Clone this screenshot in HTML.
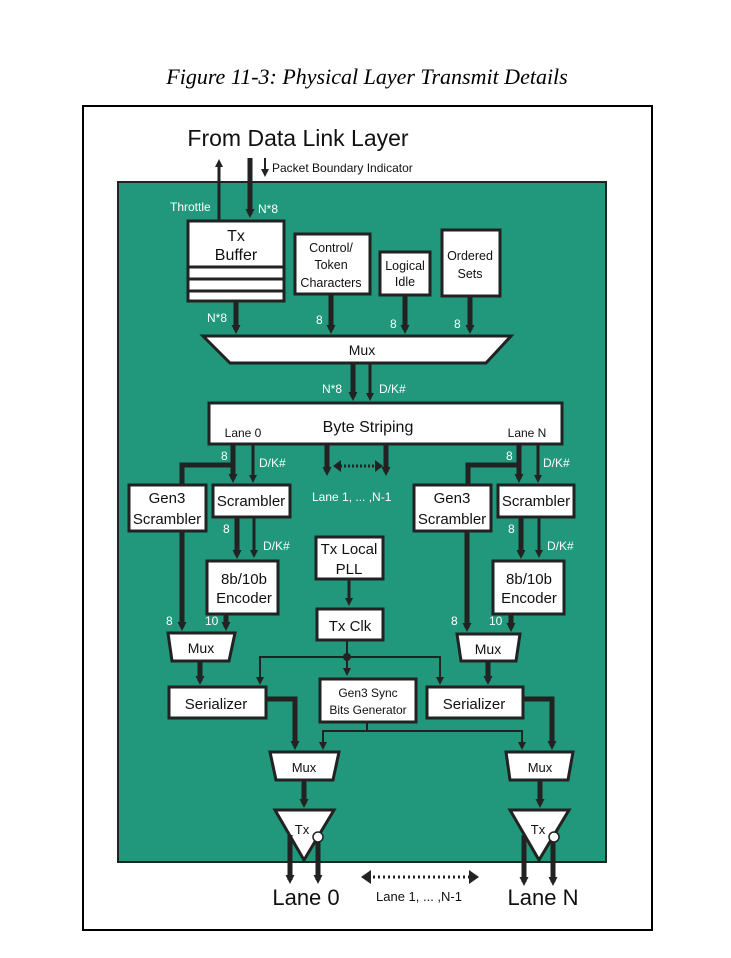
<!DOCTYPE html><html><head><style>body{margin:0;background:#fff}svg{display:block}text{font-family:"Liberation Sans",Arial,sans-serif}</style></head><body>
<svg width="731" height="958" viewBox="0 0 731 958" xmlns="http://www.w3.org/2000/svg">
<defs>
<marker id="b" markerWidth="8" markerHeight="8" refX="5" refY="4" orient="auto" markerUnits="userSpaceOnUse"><path d="M0,0 L8,4 L0,8z" fill="#222"/></marker>
<marker id="bw" markerWidth="9" markerHeight="9" refX="5" refY="4.5" orient="auto" markerUnits="userSpaceOnUse"><path d="M0,0 L9,4.5 L0,9z" fill="#222"/></marker>
</defs>
<text x="367" y="84" font-style="italic" font-size="22" text-anchor="middle" style="font-family:'Liberation Serif',serif">Figure 11-3: Physical Layer Transmit Details</text>
<rect x="83" y="106" width="569" height="824" fill="none" stroke="#000" stroke-width="2"/>
<text x="298" y="146" font-size="23" text-anchor="middle" fill="#111">From Data Link Layer</text>
<rect x="118" y="182" width="488" height="680" fill="#21977b" stroke="#222" stroke-width="2"/>
<g stroke="#222" fill="none">
<line x1="219" y1="221" x2="219" y2="162" stroke-width="3" marker-end="url(#b)"/>
<line x1="250" y1="158" x2="250" y2="214" stroke-width="5" marker-end="url(#bw)"/>
<line x1="265" y1="158" x2="265" y2="174" stroke-width="2" marker-end="url(#b)"/>
</g>
<text x="272" y="172" font-size="12" fill="#111">Packet Boundary Indicator</text>
<g font-size="12" fill="#fff">
<text x="170" y="211">Throttle</text><text x="258" y="213">N*8</text>
<text x="207" y="322">N*8</text><text x="316" y="324">8</text><text x="390" y="328">8</text><text x="454" y="328">8</text>
<text x="322" y="393">N*8</text><text x="379" y="393">D/K#</text>
<text x="221" y="460">8</text><text x="259" y="467">D/K#</text>
<text x="506" y="460">8</text><text x="543" y="467">D/K#</text>
<text x="312" y="501">Lane 1, ... ,N-1</text>
<text x="223" y="533">8</text><text x="263" y="550">D/K#</text>
<text x="508" y="533">8</text><text x="547" y="550">D/K#</text>
<text x="166" y="625">8</text><text x="205" y="625">10</text>
<text x="451" y="625">8</text><text x="489" y="625">10</text>
</g>
<g fill="#fff" stroke="#222" stroke-width="3">
<rect x="188" y="221" width="96" height="80"/>
<line x1="188" y1="267" x2="284" y2="267"/><line x1="188" y1="279" x2="284" y2="279"/><line x1="188" y1="291" x2="284" y2="291"/>
<rect x="295" y="234" width="75" height="60"/>
<rect x="380" y="252" width="50" height="43"/>
<rect x="442" y="230" width="58" height="66"/>
<polygon points="203,336 511,336 486,363 230,363"/>
<rect x="209" y="403" width="353" height="41"/>
<rect x="129" y="485" width="77" height="46"/><rect x="213" y="485" width="77" height="32"/>
<rect x="414" y="485" width="77" height="46"/><rect x="498" y="485" width="76" height="32"/>
<rect x="316" y="537" width="67" height="42"/><rect x="317" y="609" width="66" height="31"/>
<rect x="207" y="561" width="71" height="53"/><rect x="493" y="561" width="71" height="53"/>
<polygon points="168,633 235,633 229,661 172,661"/><polygon points="457,634 520,634 516,661 461,661"/>
<rect x="169" y="687" width="97" height="31"/><rect x="427" y="687" width="96" height="31"/>
<rect x="320" y="679" width="96" height="43"/>
<polygon points="270,752 339,752 333,780 276,780"/><polygon points="506,752 573,752 568,780 510,780"/>
<polygon points="275,810 334,810 304,860"/><polygon points="510,810 569,810 539,860"/>
</g>
<g stroke="#222" fill="none">
<g stroke-width="5">
<line x1="236" y1="302" x2="236" y2="330" marker-end="url(#bw)"/>
<line x1="331" y1="295" x2="331" y2="330" marker-end="url(#bw)"/>
<line x1="405" y1="296" x2="405" y2="330" marker-end="url(#bw)"/>
<line x1="470" y1="297" x2="470" y2="330" marker-end="url(#bw)"/>
<line x1="353" y1="364" x2="353" y2="397" marker-end="url(#bw)"/>
<polyline points="233,444 233,465 182,465 182,484"/>
<line x1="233" y1="465" x2="233" y2="479" marker-end="url(#bw)"/>
<polyline points="519,444 519,465 468,465 468,484"/>
<line x1="519" y1="465" x2="519" y2="479" marker-end="url(#bw)"/>
<line x1="327" y1="445" x2="327" y2="472" marker-end="url(#bw)"/>
<line x1="386" y1="445" x2="386" y2="472" marker-end="url(#bw)"/>
<line x1="237" y1="518" x2="237" y2="555" marker-end="url(#bw)"/>
<line x1="521" y1="518" x2="521" y2="555" marker-end="url(#bw)"/>
<line x1="182" y1="532" x2="182" y2="627" marker-end="url(#bw)"/>
<line x1="467" y1="532" x2="467" y2="628" marker-end="url(#bw)"/>
<line x1="226" y1="615" x2="226" y2="627" marker-end="url(#bw)"/>
<line x1="511" y1="615" x2="511" y2="628" marker-end="url(#bw)"/>
<line x1="200" y1="662" x2="200" y2="681" marker-end="url(#bw)"/>
<line x1="488" y1="662" x2="488" y2="681" marker-end="url(#bw)"/>
<polyline points="266,699 295,699 295,746" marker-end="url(#bw)"/>
<polyline points="523,699 552,699 552,746" marker-end="url(#bw)"/>
<line x1="304" y1="781" x2="304" y2="804" marker-end="url(#bw)"/>
<line x1="540" y1="781" x2="540" y2="804" marker-end="url(#bw)"/>
<line x1="290" y1="835" x2="290" y2="880" marker-end="url(#bw)"/>
<line x1="318" y1="840" x2="318" y2="880" marker-end="url(#bw)"/>
<line x1="524" y1="835" x2="524" y2="882" marker-end="url(#bw)"/>
<line x1="553" y1="840" x2="553" y2="882" marker-end="url(#bw)"/>
</g>
<g stroke-width="3">
<line x1="370" y1="364" x2="370" y2="398" marker-end="url(#b)"/>
<line x1="253" y1="444" x2="253" y2="480" marker-end="url(#b)"/>
<line x1="538" y1="444" x2="538" y2="480" marker-end="url(#b)"/>
<line x1="254" y1="518" x2="254" y2="555" marker-end="url(#b)"/>
<line x1="539" y1="518" x2="539" y2="555" marker-end="url(#b)"/>
<line x1="349" y1="580" x2="349" y2="603" marker-end="url(#b)"/>
</g>
<g stroke-width="2">
<line x1="347" y1="641" x2="347" y2="673" marker-end="url(#b)"/>
<polyline points="260,681 260,657 440,657 440,681"/>
<line x1="260" y1="672" x2="260" y2="682" marker-end="url(#b)"/>
<line x1="440" y1="672" x2="440" y2="682" marker-end="url(#b)"/>
<polyline points="367,722 367,731 323,731 323,746"/>
<polyline points="367,731 522,731 522,746"/>
<line x1="323" y1="740" x2="323" y2="747" marker-end="url(#b)"/>
<line x1="522" y1="740" x2="522" y2="747" marker-end="url(#b)"/>
</g>
<line x1="340" y1="466" x2="376" y2="466" stroke-width="3" stroke-dasharray="2,2"/>
<line x1="368" y1="877" x2="472" y2="877" stroke-width="3" stroke-dasharray="2,3"/>
</g>
<circle cx="347" cy="657" r="4" fill="#222"/>
<path d="M333,466 l8,-6 v12z M383,466 l-8,-6 v12z M361,877 l10,-7 v14z M479,877 l-10,-7 v14z" fill="#222"/>
<circle cx="318" cy="837" r="5" fill="#fff" stroke="#222" stroke-width="1.5"/>
<circle cx="554" cy="837" r="5" fill="#fff" stroke="#222" stroke-width="1.5"/>
<g fill="#111" text-anchor="middle">
<text x="236" y="241" font-size="16">Tx</text><text x="236" y="260" font-size="16">Buffer</text>
<text x="331" y="252" font-size="12.5">Control/</text><text x="331" y="269" font-size="12.5">Token</text><text x="331" y="287" font-size="12.5">Characters</text>
<text x="405" y="270" font-size="12.5">Logical</text><text x="405" y="286" font-size="12.5">Idle</text>
<text x="470" y="260" font-size="12.5">Ordered</text><text x="470" y="278" font-size="12.5">Sets</text>
<text x="362" y="355" font-size="14">Mux</text>
<text x="368" y="432" font-size="16">Byte Striping</text>
<text x="243" y="437" font-size="12">Lane 0</text><text x="527" y="437" font-size="12">Lane N</text>
<text x="167" y="503" font-size="15">Gen3</text><text x="167" y="524" font-size="15">Scrambler</text>
<text x="251" y="506" font-size="15">Scrambler</text>
<text x="452" y="503" font-size="15">Gen3</text><text x="452" y="524" font-size="15">Scrambler</text>
<text x="536" y="506" font-size="15">Scrambler</text>
<text x="349" y="554" font-size="15">Tx Local</text><text x="349" y="574" font-size="15">PLL</text>
<text x="350" y="631" font-size="15">Tx Clk</text>
<text x="244" y="584" font-size="15">8b/10b</text><text x="244" y="603" font-size="15">Encoder</text>
<text x="529" y="584" font-size="15">8b/10b</text><text x="529" y="603" font-size="15">Encoder</text>
<text x="201" y="653" font-size="14">Mux</text><text x="488" y="654" font-size="14">Mux</text>
<text x="216" y="709" font-size="15">Serializer</text><text x="474" y="709" font-size="15">Serializer</text>
<text x="368" y="697" font-size="12">Gen3 Sync</text><text x="368" y="714" font-size="12">Bits Generator</text>
<text x="304" y="772" font-size="13">Mux</text><text x="540" y="772" font-size="13">Mux</text>
<text x="302" y="834" font-size="13">Tx</text><text x="538" y="834" font-size="13">Tx</text>
<text x="306" y="905" font-size="22">Lane 0</text><text x="543" y="905" font-size="22">Lane N</text>
<text x="419" y="901" font-size="13">Lane 1, ... ,N-1</text>
</g>
</svg></body></html>
